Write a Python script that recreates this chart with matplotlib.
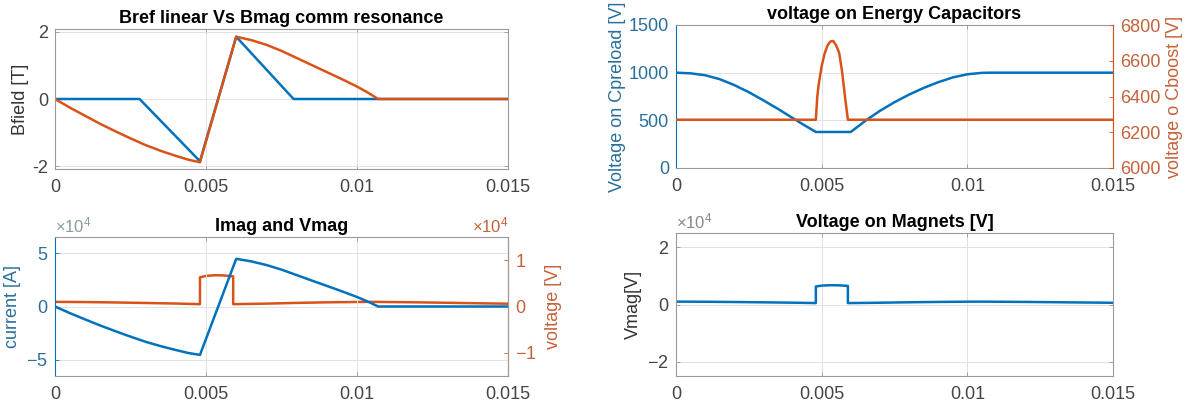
import matplotlib
matplotlib.use("Agg")
import matplotlib.pyplot as plt
from matplotlib.ticker import FuncFormatter

plt.rcParams['font.family'] = ['Liberation Sans', 'DejaVu Sans']
plt.rcParams['mathtext.fontset'] = 'custom'
plt.rcParams['mathtext.rm'] = 'Liberation Sans'
plt.rcParams['axes.unicode_minus'] = False

# ---- data (time in s) ----
t_bref = [0, 0.0028, 0.0048, 0.006, 0.0079, 0.015]
b_ref = [0, 0, -1.85, 1.85, 0, 0]

t_bmag = [0, 0.0005, 0.001, 0.0015, 0.002, 0.0025, 0.003, 0.0035, 0.004, 0.0044, 0.0048,
          0.006, 0.0065, 0.007, 0.0075, 0.008, 0.0085, 0.009, 0.0095, 0.010, 0.0104, 0.0107, 0.015]
b_mag = [0, -0.26, -0.50, -0.74, -0.96, -1.17, -1.37, -1.54, -1.69, -1.80, -1.88,
         1.85, 1.75, 1.61, 1.43, 1.22, 1.01, 0.80, 0.59, 0.37, 0.17, 0.0, 0.0]
i_mag = [0, -6300, -12100, -17800, -23100, -28200, -33000, -37100, -40700, -43400, -45300,
         44600, 42200, 38800, 34500, 29400, 24300, 19300, 14200, 8900, 4100, 0, 0]

t_cpre = [0, 0.0005, 0.001, 0.0015, 0.002, 0.0025, 0.003, 0.0035, 0.004, 0.0044, 0.0048,
          0.006, 0.0065, 0.007, 0.0075, 0.008, 0.0085, 0.009, 0.0095, 0.010, 0.0105, 0.0108, 0.015]
v_cpre = [1000, 993, 973, 932, 870, 795, 710, 620, 525, 450, 378,
          378, 495, 600, 690, 770, 840, 900, 950, 983, 998, 1000, 1000]

t_cboost = [0, 0.0048, 0.00485, 0.0049, 0.005, 0.0051, 0.0052, 0.0053, 0.0054, 0.0055,
            0.0056, 0.0057, 0.0058, 0.0059, 0.015]
v_cboost = [6270, 6270, 6400, 6470, 6570, 6640, 6685, 6708, 6710, 6685,
            6645, 6540, 6400, 6270, 6270]

t_vmag = [0, 0.001, 0.002, 0.003, 0.004, 0.0048, 0.0048, 0.005, 0.0053, 0.0056, 0.0059,
          0.0059, 0.007, 0.008, 0.009, 0.010, 0.0105, 0.012, 0.015]
v_vmag = [1000, 960, 870, 760, 640, 500, 6300, 6600, 6750, 6700, 6500,
          500, 620, 780, 900, 980, 1000, 900, 600]

x_ticks = [0, 0.005, 0.01, 0.015]

BLUE = '#0072BD'
ORANGE = '#D95319'
BLUE_TXT = '#2A6F9A'
ORANGE_TXT = '#C4623C'
GRAY = '#444444'
EDGE = '#9A9A9A'
FS = 13

W, H = 1190, 407
fig = plt.figure(figsize=(W / 100, H / 100), dpi=100)


def box(left, top, right, bottom):
    return [left / W, 1 - bottom / H, (right - left) / W, (bottom - top) / H]


def base_style(ax, title, mirror=True):
    ax.set_xlim(0, 0.015)
    ax.set_xticks(x_ticks)
    ax.xaxis.set_major_formatter(FuncFormatter(lambda v, p: f'{v:g}'))
    ax.grid(True, color='#E2E2E2', linewidth=0.7)
    ax.set_axisbelow(True)
    for s in ax.spines.values():
        s.set_color(EDGE)
        s.set_linewidth(0.8)
    ax.tick_params(direction='in', length=3, width=0.6, color=EDGE, labelsize=FS,
                   labelcolor=GRAY, top=True, right=mirror, pad=5)
    ax.tick_params(axis='x', pad=7)
    ax.set_title(title, fontsize=FS, fontweight='bold', pad=4)


def color_left(ax, col, txt):
    ax.spines['left'].set_color(col)
    ax.tick_params(axis='y', colors=col, labelcolor=txt)
    ax.yaxis.label.set_color(txt)


def color_right(ax2, col, txt):
    for s in ax2.spines.values():
        s.set_visible(False)
    ax2.spines['right'].set_visible(True)
    ax2.spines['right'].set_color(col)
    ax2.spines['right'].set_linewidth(0.8)
    ax2.tick_params(axis='y', direction='in', length=3, width=0.6, colors=col,
                    labelcolor=txt, labelsize=FS, pad=5)
    ax2.yaxis.label.set_color(txt)


# ---- top left: B field ----
ax1 = fig.add_axes(box(55, 29, 508, 169))
base_style(ax1, 'Bref linear Vs Bmag comm resonance')
ax1.plot(t_bref, b_ref, color=BLUE, lw=1.8)
ax1.plot(t_bmag, b_mag, color=ORANGE, lw=1.8)
ax1.set_ylim(-2.08, 2.08)
ax1.set_yticks([-2, 0, 2])
ax1.set_ylabel('Bfield [T]', fontsize=FS, color='#333333', labelpad=2)

# ---- top right: capacitor voltages ----
ax2 = fig.add_axes(box(676, 25, 1113, 168))
base_style(ax2, 'voltage on Energy Capacitors', mirror=False)
ax2.plot(t_cpre, v_cpre, color=BLUE, lw=1.8)
ax2.set_ylim(0, 1500)
ax2.set_yticks([0, 500, 1000, 1500])
ax2.set_ylabel('Voltage on Cpreload [V]', fontsize=FS, labelpad=2)
color_left(ax2, BLUE, BLUE_TXT)
ax2r = ax2.twinx()
ax2r.plot(t_cboost, v_cboost, color=ORANGE, lw=1.8)
ax2r.set_ylim(6000, 6800)
ax2r.set_yticks([6000, 6200, 6400, 6600, 6800])
ax2r.set_ylabel('voltage o Cboost [V]', fontsize=FS, labelpad=4)
color_right(ax2r, ORANGE, ORANGE_TXT)

# ---- bottom left: current and voltage ----
ax3 = fig.add_axes(box(55, 237, 508, 376))
base_style(ax3, 'Imag and Vmag', mirror=False)
ax3.plot(t_bmag, i_mag, color=BLUE, lw=1.8)
ax3.set_ylim(-6.5e4, 6.5e4)
ax3.set_yticks([-5e4, 0, 5e4])
ax3.ticklabel_format(axis='y', style='sci', scilimits=(4, 4), useMathText=True)
ax3.set_ylabel('current [A]', fontsize=FS, labelpad=4)
color_left(ax3, BLUE, BLUE_TXT)
ax3.yaxis.get_offset_text().set_fontsize(12)
ax3.yaxis.get_offset_text().set_color('#8A9AA8')
ax3r = ax3.twinx()
ax3r.plot(t_vmag, v_vmag, color=ORANGE, lw=1.8)
ax3r.set_ylim(-1.5e4, 1.5e4)
ax3r.set_yticks([-1e4, 0, 1e4])
ax3r.ticklabel_format(axis='y', style='sci', scilimits=(4, 4), useMathText=True)
ax3r.set_ylabel('voltage [V]', fontsize=FS, labelpad=6)
color_right(ax3r, ORANGE, ORANGE_TXT)
ax3r.yaxis.get_offset_text().set_fontsize(12)
ax3r.yaxis.get_offset_text().set_color(ORANGE_TXT)
ax3.set_zorder(ax3r.get_zorder() + 1)
ax3.patch.set_visible(False)

# ---- bottom right: magnet voltage ----
ax4 = fig.add_axes(box(676, 233, 1113, 376))
base_style(ax4, 'Voltage on Magnets [V]')
ax4.plot(t_vmag, v_vmag, color=BLUE, lw=1.8)
ax4.set_ylim(-2.5e4, 2.5e4)
ax4.set_yticks([-2e4, 0, 2e4])
ax4.ticklabel_format(axis='y', style='sci', scilimits=(4, 4), useMathText=True)
ax4.set_ylabel('Vmag[V]', fontsize=FS, color='#333333', labelpad=4)
ax4.yaxis.get_offset_text().set_fontsize(12)
ax4.yaxis.get_offset_text().set_color('#888888')

fig.savefig('out.png', dpi=100)
